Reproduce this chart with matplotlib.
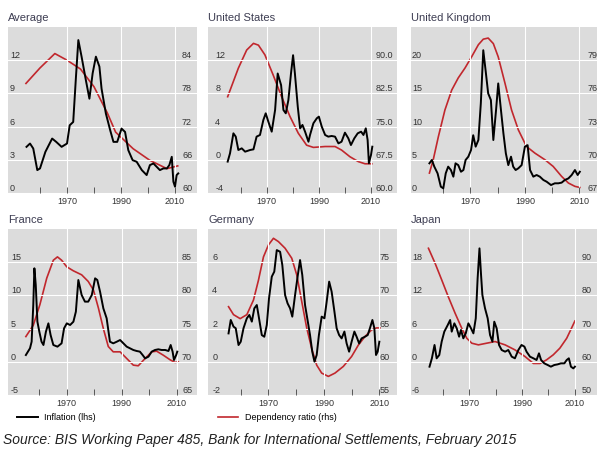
import matplotlib
matplotlib.use("Agg")
import matplotlib.pyplot as plt
import numpy as np

plt.rcParams["font.family"] = ["Liberation Sans", "DejaVu Sans"]

# ---- data: inflation (lhs, black) and dependency ratio (rhs, red) ----
avg_infl_yr = [1955, 1956.3, 1957.5, 1959, 1960, 1962, 1964.5, 1966, 1968, 1970, 1971, 1972.3,
               1973.3, 1974.2, 1975.4, 1977, 1978.3, 1979.5, 1980.7, 1982, 1982.8, 1984.4, 1986,
               1987.2, 1988.6, 1990.2, 1991.5, 1992.7, 1994.3, 1995.8, 1997.7, 1999.5, 2000.7,
               2002, 2003.2, 2004.4, 2005.7, 2007, 2007.9, 2008.8, 2009.4, 2010, 2010.6, 2011.2]
avg_infl = [4.17, 4.47, 4.02, 2.07, 2.22, 3.72, 4.92, 4.62, 4.17, 4.47, 6.12, 6.42,
            10.42, 13.82, 12.32, 10.18, 8.52, 10.82, 12.32, 11.42, 9.42, 7.18, 5.67,
            4.62, 4.62, 5.82, 5.52, 3.87, 2.97, 2.82, 2.07, 1.62, 2.52,
            2.67, 2.37, 2.07, 2.22, 2.22, 2.52, 3.27, 1.02, 0.57, 1.62, 1.77]
avg_dep_yr = [1954.8, 1960, 1965.5, 1970, 1975, 1980, 1985, 1988, 1994.5, 2000.7, 2007, 2011]
avg_dep = [79.8, 82.6, 85.2, 84.0, 82.4, 79.2, 74.4, 71.0, 68.0, 65.9, 64.4, 64.9]

us_infl_yr = [1955, 1955.9, 1957.2, 1958.1, 1959.1, 1960.4, 1961.7, 1963.6, 1964.9, 1966.1,
              1967.4, 1968.7, 1969.6, 1970.6, 1971.9, 1973.2, 1974.2, 1975.5, 1976.4, 1977.3,
              1978.3, 1979.3, 1980.1, 1980.8, 1981.9, 1982.8, 1983.7, 1984.7, 1986, 1986.6,
              1987.9, 1989.2, 1990, 1991.1, 1992.4, 1993.6, 1994.9, 1996.2, 1997.5, 1998.7,
              2000, 2001.3, 2002.3, 2003.6, 2004.9, 2006.2, 2007.1, 2008, 2008.7, 2009.2,
              2010, 2010.5]
us_infl = [-0.22, 0.78, 3.19, 2.79, 1.18, 1.38, 0.98, 1.18, 1.26, 2.79,
           2.99, 4.8, 5.6, 4.6, 3.39, 6.0, 10.4, 9.0, 6.0, 5.6,
           7.2, 10.4, 12.6, 10.4, 6.4, 3.79, 4.2, 3.39, 2.18, 2.99,
           4.4, 5.0, 5.2, 4.0, 2.99, 2.79, 2.87, 2.79, 1.98, 2.18,
           3.27, 2.59, 1.78, 2.59, 3.19, 3.39, 2.99, 3.79, 2.39, -0.42,
           0.58, 1.58]
us_dep_yr = [1955, 1959.1, 1962.3, 1964.9, 1966.8, 1969.3, 1972.5, 1975.7, 1978.9, 1982.1,
             1985.3, 1987.9, 1992.4, 1996.2, 1998.7, 2001.9, 2005.1, 2007.7, 2010.3]
us_dep = [81.75, 88.2, 92.3, 93.8, 93.4, 91.2, 86.6, 81.75, 77.3, 73.5,
          70.8, 70.3, 70.5, 70.5, 69.7, 68.2, 67.1, 66.6, 66.6]

uk_infl_yr = [1954.9, 1955.8, 1956.7, 1957.9, 1959.1, 1960, 1960.9, 1961.8, 1962.8, 1963.7,
              1964.5, 1965.5, 1966.5, 1967.4, 1968.2, 1969.2, 1970.2, 1971, 1971.9, 1972.9,
              1973.8, 1974.7, 1975.6, 1976.5, 1977.5, 1978.4, 1979.4, 1980.2, 1981.2, 1982.1,
              1983, 1983.9, 1984.9, 1985.7, 1986.6, 1987.6, 1988.8, 1990, 1991, 1991.9,
              1993.1, 1994.3, 1995.5, 1996.8, 1998, 1999.6, 2001, 2002.3, 2003.5, 2004.7,
              2006, 2007.2, 2008.4, 2009.4, 2010.2]
uk_infl = [4.47, 4.97, 3.97, 2.96, 0.95, 0.7, 2.96, 3.97, 3.46, 2.46,
           4.47, 4.2, 3.2, 3.46, 4.97, 5.47, 6.47, 8.7, 6.98, 7.98,
           13.5, 21.5, 18.3, 15.0, 14.0, 7.98, 12.5, 16.5, 12.5, 9.0,
           5.97, 4.2, 5.47, 3.97, 3.46, 3.72, 4.2, 6.98, 7.2, 3.46,
           2.46, 2.71, 2.46, 1.96, 1.7, 1.2, 1.46, 1.46, 1.56, 1.96,
           2.2, 2.71, 3.46, 2.71, 3.2]
uk_dep_yr = [1954.9, 1956.3, 1958.2, 1960.6, 1963.1, 1965.5, 1968, 1970.4, 1972.9, 1974.7,
             1976.5, 1978.4, 1980.2, 1982.7, 1985.1, 1987.6, 1990.6, 1993.7, 1997.4, 2000.4,
             2003.5, 2006, 2008.4, 2010.2]
uk_dep = [68.8, 70.0, 72.1, 74.5, 76.3, 77.4, 78.3, 79.3, 80.4, 80.9,
          81.0, 80.5, 79.3, 76.9, 74.5, 72.7, 71.2, 70.6, 70.0, 69.4,
          68.5, 67.9, 67.6, 67.5]

fr_infl_yr = [1955.1, 1956.6, 1957.2, 1957.8, 1958.2, 1958.7, 1959.3, 1960, 1960.8, 1961.5,
              1962.4, 1963.3, 1964.1, 1965.1, 1966.6, 1968.1, 1969, 1970, 1971.2, 1972.4,
              1973.3, 1974.2, 1975.4, 1976.6, 1977.8, 1979.1, 1980.3, 1981.1, 1982.1, 1983.3,
              1984.5, 1985.7, 1986.9, 1988.2, 1989.4, 1990.6, 1991.8, 1993, 1994.2, 1995.4,
              1996.6, 1997.6, 1998.5, 1999.7, 2000.9, 2002.1, 2003.3, 2004.5, 2005.8, 2007,
              2007.8, 2008.5, 2009, 2009.8, 2010.2]
fr_infl = [1.02, 2.03, 3.03, 8.55, 14.08, 11.57, 6.04, 4.54, 3.03, 2.53,
           4.54, 5.79, 4.04, 2.53, 2.28, 2.78, 5.04, 5.79, 5.54, 6.04,
           7.55, 12.32, 10.06, 9.06, 9.06, 10.06, 12.57, 12.32, 10.56, 8.05,
           6.55, 3.03, 2.78, 3.03, 3.28, 2.78, 2.28, 2.03, 1.78, 1.63,
           1.53, 1.02, 0.52, 0.77, 1.53, 1.78, 1.88, 1.78, 1.78, 1.63,
           2.53, 1.53, 0.27, 1.02, 1.53]
fr_dep_yr = [1955.1, 1957.8, 1960.2, 1962.7, 1965.1, 1966.6, 1968.1, 1970, 1972.4, 1975.4,
             1977.8, 1979.7, 1981.5, 1983.3, 1985.1, 1986.9, 1989.4, 1991.8, 1994.2, 1996,
             1998.5, 2000.9, 2002.7, 2005.1, 2007.6, 2009.4, 2010.6]
fr_dep = [73.8, 75.5, 78.6, 82.6, 85.3, 85.8, 85.3, 84.3, 83.7, 83.1,
          82.1, 80.8, 78.1, 75.0, 72.3, 71.5, 71.5, 70.5, 69.5, 69.4,
          70.5, 71.5, 71.6, 71.0, 70.3, 69.9, 70.0]

de_infl_yr = [1955.6, 1956.4, 1957.4, 1958.2, 1959.2, 1960, 1961, 1962.2, 1963.1, 1964,
              1964.9, 1965.8, 1966.6, 1967.6, 1968.5, 1969.4, 1970.2, 1971.2, 1972.1, 1973,
              1974.2, 1975, 1976, 1976.9, 1977.8, 1978.6, 1979.6, 1980.6, 1981.4, 1982.2,
              1983.2, 1984.2, 1985, 1985.8, 1986.6, 1987.4, 1988.2, 1989.2, 1990.2, 1991,
              1991.9, 1992.8, 1993.8, 1994.6, 1995.5, 1996.4, 1997.4, 1998.2, 1999.1, 2000,
              2001, 2001.8, 2002.7, 2003.6, 2004.8, 2005.8, 2006.6, 2007.5, 2008.2, 2008.8,
              2009.4, 2010]
de_infl = [1.71, 2.52, 2.12, 2.02, 1.01, 1.21, 2.02, 2.62, 2.82, 2.42,
           3.22, 3.42, 2.62, 1.61, 1.51, 2.22, 3.82, 5.13, 5.43, 6.73,
           6.63, 5.83, 4.02, 3.52, 3.22, 2.72, 4.02, 5.23, 6.13, 5.23,
           3.42, 2.42, 1.61, 0.61, 0.01, 0.41, 1.61, 2.72, 2.62, 3.62,
           4.83, 4.22, 3.02, 2.02, 1.61, 1.41, 1.82, 1.11, 0.61, 1.21,
           1.82, 1.51, 1.11, 1.41, 1.51, 1.61, 2.02, 2.52, 2.02, 0.41,
           0.61, 1.21]
de_dep_yr = [1955.6, 1957.4, 1959.8, 1962.2, 1964.6, 1966.4, 1968.2, 1970, 1971.8, 1973.6,
             1976, 1978.4, 1980.2, 1982, 1983.8, 1985.6, 1987.4, 1989.2, 1991.6, 1994,
             1997, 2000, 2002.4, 2004.8, 2007.2, 2009, 2010.2]
de_dep = [68.3, 67.1, 66.5, 67.1, 69.3, 72.3, 75.8, 77.6, 78.6, 78.1,
          77.1, 75.6, 73.1, 69.1, 65.1, 62.0, 59.5, 58.3, 57.8, 58.3,
          59.3, 60.8, 62.5, 63.8, 64.8, 65.1, 65.1]

jp_infl_yr = [1955, 1955.9, 1956.9, 1957.7, 1958.7, 1959.6, 1960.6, 1961.9, 1962.8, 1963.4,
              1964.4, 1965.3, 1966.2, 1966.9, 1967.8, 1968.7, 1969.7, 1970.7, 1971.6, 1972.5,
              1973.2, 1973.9, 1974.5, 1975, 1976, 1977, 1977.9, 1978.8, 1979.5, 1980.4,
              1981.3, 1982.3, 1983.6, 1984.8, 1986.1, 1987.3, 1988.6, 1989.8, 1990.9, 1991.7,
              1993, 1994.3, 1995.5, 1996.4, 1997.2, 1998.4, 1999.7, 2000.9, 2002.2, 2003.5,
              2004.7, 2006, 2006.9, 2007.7, 2008.5, 2009.4, 2010]
jp_infl = [-0.88, 0.63, 3.04, 0.63, 1.23, 3.64, 5.45, 6.65, 7.55, 5.45,
           6.95, 6.05, 4.54, 5.75, 4.24, 5.14, 6.95, 6.05, 5.14, 7.86,
           15.08, 20.5, 15.68, 12.07, 9.66, 7.86, 4.84, 3.64, 7.25, 6.05,
           3.04, 2.13, 1.83, 2.13, 0.93, 0.63, 2.13, 3.04, 2.74, 1.83,
           0.93, 0.63, 0.33, 1.53, 0.33, -0.28, -0.58, -0.88, -0.58, -0.46,
           -0.28, -0.28, 0.33, 0.63, -0.88, -1.19, -0.88]
jp_dep_yr = [1954.6, 1957.1, 1959.6, 1962.1, 1964.7, 1967.2, 1969.1, 1971, 1973.5, 1976.6,
             1979.8, 1983.6, 1987.3, 1991.1, 1994.3, 1996.8, 1999.3, 2001.8, 2004.3, 2006.9,
             2008.7, 2010]
jp_dep = [94.2, 89.7, 84.7, 79.6, 74.6, 70.1, 67.1, 65.6, 65.1, 65.6,
          66.1, 65.1, 63.6, 61.6, 59.5, 59.5, 60.6, 62.1, 64.1, 67.1,
          70.1, 72.3]

names = ["Average", "United States", "United Kingdom", "France", "Germany", "Japan"]
infl_yrs = [avg_infl_yr, us_infl_yr, uk_infl_yr, fr_infl_yr, de_infl_yr, jp_infl_yr]
infl_vals = [avg_infl, us_infl, uk_infl, fr_infl, de_infl, jp_infl]
dep_yrs = [avg_dep_yr, us_dep_yr, uk_dep_yr, fr_dep_yr, de_dep_yr, jp_dep_yr]
dep_vals = [avg_dep, us_dep, uk_dep, fr_dep, de_dep, jp_dep]
left_ticks = [[0, 3, 6, 9, 12], [-4, 0, 4, 8, 12], [0, 5, 10, 15, 20],
              [-5, 0, 5, 10, 15], [-2, 0, 2, 4, 6], [-6, 0, 6, 12, 18]]
right_ticks = [[60, 66, 72, 78, 84], [60.0, 67.5, 75.0, 82.5, 90.0], [67, 70, 73, 76, 79],
               [65, 70, 75, 80, 85], [55, 60, 65, 70, 75], [50, 60, 70, 80, 90]]
right_fmt = ["{:.0f}", "{:.1f}", "{:.0f}", "{:.0f}", "{:.0f}", "{:.0f}"]

# ---- layout (pixels) ----
W, H = 597, 449
col_left = [8, 208.3, 411]
row_top = [27, 229]
panel_w, panel_h = 188.5, 166
xlims = [(1948.15, 2017.96), (1947.57, 2019.9), (1948.13, 2017.43),
         (1948.6, 2017.2), (1948.3, 2016.3), (1948.0, 2019.3)]
left_off = [2, 7, 1, 3, 4, 1]          # px inside from left edge
right_off = [14.5, 20.8, 11.5, 14.5, 16.8, 17.5]  # px inside from right edge

GRAY = "#dcdcdc"
RED = "#c1272d"
TXT = "#333333"
PX = 0.72  # points per pixel at 100 dpi

fig = plt.figure(figsize=(W / 100, H / 100), dpi=100)

for i, name in enumerate(names):
    r, c = divmod(i, 3)
    x0 = col_left[c] / W
    y0 = 1 - (row_top[r] + panel_h) / H
    ax = fig.add_axes([x0, y0, panel_w / W, panel_h / H])
    ax2 = ax.twinx()

    lt = left_ticks[i]
    step = lt[1] - lt[0]
    ax.set_ylim(lt[0], lt[0] + 5 * step)
    rt = right_ticks[i]
    rstep = rt[1] - rt[0]
    ax2.set_ylim(rt[0], rt[0] + 5 * rstep)
    ax.set_xlim(*xlims[i])

    # layering: gray patch + red on ax2 below, grid + black on ax above
    ax.set_zorder(ax2.get_zorder() + 1)
    ax.patch.set_visible(False)
    ax2.patch.set_visible(True)
    ax2.patch.set_facecolor(GRAY)

    l_red, = ax2.plot(dep_yrs[i], dep_vals[i], color=RED, lw=1.2, solid_joinstyle="round")
    l_blk, = ax.plot(infl_yrs[i], infl_vals[i], color="black", lw=1.4, solid_joinstyle="round")

    for a in (ax, ax2):
        for s in a.spines.values():
            s.set_visible(False)

    ax.set_yticks(lt)
    ax.set_yticklabels([str(v) for v in lt])
    ax2.set_yticks(rt)
    ax2.set_yticklabels([right_fmt[i].format(v) for v in rt])
    ax.tick_params(axis="y", length=0, pad=-left_off[i] * PX, labelsize=6.5, labelcolor=TXT)
    ax2.tick_params(axis="y", length=0, pad=-right_off[i] * PX, labelsize=6.5, labelcolor=TXT)
    for tk in ax.yaxis.get_major_ticks():
        tk.label1.set_horizontalalignment("left")
        tk.label1.set_verticalalignment("bottom")
    for tk in ax2.yaxis.get_major_ticks():
        tk.label2.set_horizontalalignment("left")
        tk.label2.set_verticalalignment("bottom")

    ax.set_xticks([1970, 1990, 2010])
    ax.set_xticklabels(["1970", "1990", "2010"])
    ax.set_xticks([1960, 1980, 2000], minor=True)
    ax.tick_params(axis="x", which="both", direction="in", length=4, width=0.7,
                   color="#555555", labelsize=6.5, labelcolor=TXT, pad=3)

    ax.grid(True, which="major", color="white", lw=0.8)
    ax.set_axisbelow(True)

    ax.set_title(name, loc="left", fontsize=8, color="#3d3d52", pad=4)

fig.legend([l_blk, l_red], ["Inflation (lhs)", "Dependency ratio (rhs)"],
           loc="center left", bbox_to_anchor=(17 / W, 1 - 418 / H), ncol=2,
           frameon=False, fontsize=6.5, handlelength=2.3, handletextpad=0.7,
           columnspacing=13.5, borderpad=0, borderaxespad=0)

fig.text(3 / W, 1 - 440 / H,
         "Source: BIS Working Paper 485, Bank for International Settlements, February 2015",
         fontsize=10, style="italic", color="#222222", ha="left", va="center")

fig.savefig("out.png", dpi=100)
